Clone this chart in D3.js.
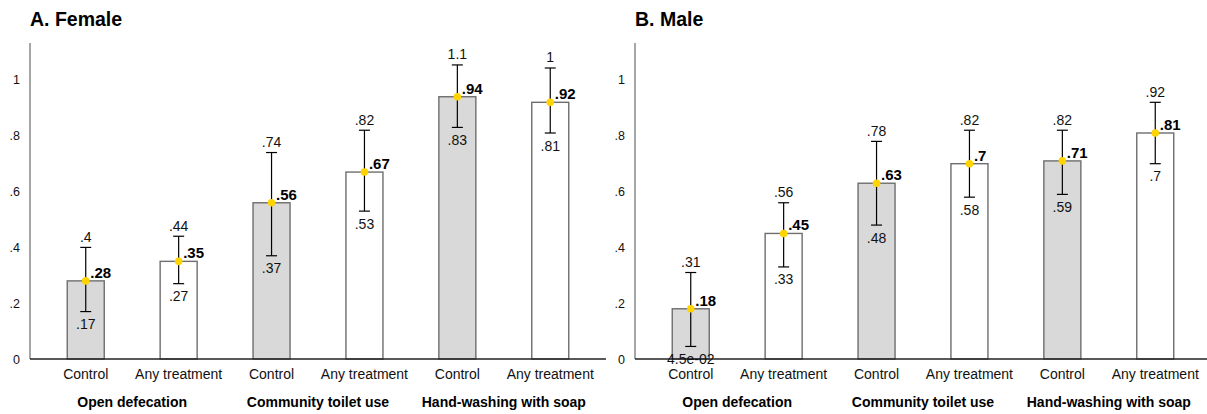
<!DOCTYPE html>
<html><head><meta charset="utf-8">
<script src="https://cdn.jsdelivr.net/npm/d3@7"></script>
<style>body{margin:0;background:#fff}svg{display:block;font-family:"Liberation Sans",Arial,Helvetica,sans-serif}</style>
</head><body><svg id="c" width="1207" height="414"></svg>
<script>
const arms = ["Control","Any treatment","Control","Any treatment","Control","Any treatment"];
const groups = ["Open defecation","Community toilet use","Hand-washing with soap"];
const yTicks = [0,0.2,0.4,0.6,0.8,1];
const femaleMean = [0.28,0.35,0.56,0.67,0.94,0.92];
const femaleLow  = [0.17,0.27,0.37,0.53,0.83,0.81];
const femaleHigh = [0.40,0.44,0.74,0.82,1.054,1.043];
const maleMean = [0.18,0.45,0.63,0.70,0.71,0.81];
const maleLow  = [0.045,0.33,0.48,0.58,0.59,0.70];
const maleHigh = [0.31,0.56,0.78,0.82,0.82,0.92];
const panels = [
  {title:"A. Female", mean:femaleMean, low:femaleLow, high:femaleHigh, x0:30},
  {title:"B. Male", mean:maleMean, low:maleLow, high:maleHigh, x0:635}
];
function fmt(v){
  if (v === 0) return "0";
  if (v < 0.1) { let s=v.toExponential(1); return s.replace(/e([+-])(\d)$/,"e$10$2"); }
  let s = v.toPrecision(2);
  if (s.indexOf(".")>=0) s = s.replace(/0+$/,"").replace(/\.$/,"");
  return s.replace(/^0\./,".");
}
const svg = d3.select("#c");
const y = d3.scaleLinear().domain([0,1.1326]).range([359,43]);
const W = 576;
panels.forEach(p=>{
  const g = svg.append("g");
  const x = d3.scalePoint().domain(d3.range(arms.length)).range([p.x0,p.x0+W]).padding(0.6);
  const bw = 37;
  g.append("text").attr("x",p.x0).attr("y",26).attr("font-size",19.5).attr("font-weight","bold").text(p.title);
  g.append("line").attr("x1",p.x0).attr("x2",p.x0).attr("y1",y.range()[1]).attr("y2",y(0)).attr("stroke","#888").attr("stroke-width",1.5);
  g.selectAll(".yt").data(yTicks).join("text").attr("x",p.x0-10).attr("y",d=>y(d)+4.5)
    .attr("text-anchor","end").attr("font-size",12.5).attr("fill","#111").text(d=>fmt(d));
  g.selectAll(".bar").data(p.mean).join("rect").attr("x",(d,i)=>x(i)-bw/2).attr("width",bw)
    .attr("y",d=>y(d)).attr("height",d=>y(0)-y(d))
    .attr("fill",(d,i)=>i%2===0?"#d9d9d9":"#fff").attr("stroke","#6e6e6e").attr("stroke-width",1.4);
  g.append("line").attr("x1",p.x0).attr("x2",p.x0+W).attr("y1",y(0)).attr("y2",y(0)).attr("stroke","#222").attr("stroke-width",1.3);
  const cw = 5.5;
  p.mean.forEach((m,i)=>{
    const cx = x(i);
    g.append("line").attr("x1",cx).attr("x2",cx).attr("y1",y(p.low[i])).attr("y2",y(p.high[i])).attr("stroke","#000").attr("stroke-width",1.2);
    [p.low[i],p.high[i]].forEach(v=>g.append("line").attr("x1",cx-cw).attr("x2",cx+cw).attr("y1",y(v)).attr("y2",y(v)).attr("stroke","#000").attr("stroke-width",1.2));
    g.append("circle").attr("cx",cx).attr("cy",y(m)).attr("r",3.8).attr("fill","#ffd400");
    g.append("text").attr("x",cx).attr("y",y(p.high[i])-5.5).attr("text-anchor","middle").attr("font-size",14).attr("fill","#111").text(fmt(p.high[i]));
    g.append("text").attr("x",cx).attr("y",y(p.low[i])+17.5).attr("text-anchor","middle").attr("font-size",14).attr("fill","#111").text(fmt(p.low[i]));
    g.append("text").attr("x",cx+4.5).attr("y",y(m)-3).attr("font-size",15).attr("font-weight","bold").attr("fill","#000").text(fmt(m));
  });
  g.selectAll(".cat").data(arms).join("text").attr("x",(d,i)=>x(i)).attr("y",379)
    .attr("text-anchor","middle").attr("font-size",14).attr("fill","#111").text(d=>d);
  g.selectAll(".grp").data(groups).join("text").attr("x",(d,i)=>(x(2*i)+x(2*i+1))/2).attr("y",407)
    .attr("text-anchor","middle").attr("font-size",14).attr("font-weight","bold").attr("fill","#000").text(d=>d);
});
</script></body></html>
